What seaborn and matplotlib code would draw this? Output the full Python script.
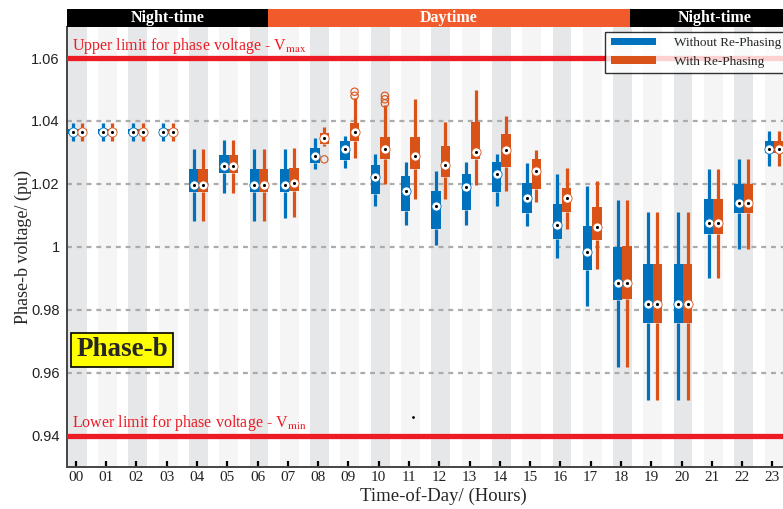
import numpy as np
import pandas as pd
import matplotlib
matplotlib.use("Agg")
import matplotlib.pyplot as plt
import seaborn as sns
from matplotlib.patches import Patch
from matplotlib.ticker import FixedLocator, FixedFormatter

# ---------------- data ----------------
hours = list(range(24))
hour_labels = [f"{h:02d}" for h in hours]

# Without Re-Phasing (blue): lower whisker, Q1, median, Q3, upper whisker
wo_lo  = [1.0337, 1.0337, 1.0337, 1.0337, 1.0083, 1.0172, 1.0083, 1.0091, 1.0248, 1.0252, 1.0130, 1.0069,
          1.0006, 1.0069, 1.0130, 1.0067, 0.9965, 0.9813, 0.9619, 0.9513, 0.9513, 0.9902, 0.9994, 1.0258]
wo_q1  = [1.0357, 1.0357, 1.0357, 1.0357, 1.0175, 1.0236, 1.0175, 1.0175, 1.0265, 1.0276, 1.0168, 1.0115,
          1.0057, 1.0117, 1.0175, 1.0109, 1.0026, 0.9926, 0.9831, 0.9759, 0.9759, 1.0042, 1.0108, 1.0297]
wo_med = [1.0366, 1.0366, 1.0366, 1.0366, 1.0197, 1.0256, 1.0197, 1.0197, 1.0289, 1.0312, 1.0223, 1.0178,
          1.0130, 1.0190, 1.0232, 1.0154, 1.0068, 0.9983, 0.9885, 0.9817, 0.9817, 1.0077, 1.0138, 1.0311]
wo_q3  = [1.0376, 1.0376, 1.0376, 1.0376, 1.0247, 1.0292, 1.0247, 1.0247, 1.0313, 1.0336, 1.0260, 1.0225,
          1.0177, 1.0231, 1.0271, 1.0203, 1.0136, 1.0066, 1.0000, 0.9945, 0.9945, 1.0152, 1.0200, 1.0336]
wo_hi  = [1.0395, 1.0395, 1.0395, 1.0395, 1.0311, 1.0340, 1.0311, 1.0311, 1.0345, 1.0352, 1.0295, 1.0270,
          1.0242, 1.0270, 1.0295, 1.0266, 1.0231, 1.0193, 1.0149, 1.0111, 1.0111, 1.0247, 1.0279, 1.0368]

# With Re-Phasing (orange)
w_lo  = [1.0337, 1.0337, 1.0337, 1.0337, 1.0083, 1.0172, 1.0083, 1.0094, 1.0322, 1.0283, 1.0200, 1.0152,
         1.0152, 1.0197, 1.0178, 1.0143, 1.0058, 0.9930, 0.9619, 0.9513, 0.9513, 0.9902, 0.9994, 1.0258]
w_q1  = [1.0357, 1.0357, 1.0357, 1.0357, 1.0175, 1.0236, 1.0175, 1.0178, 1.0326, 1.0336, 1.0279, 1.0247,
         1.0222, 1.0279, 1.0253, 1.0185, 1.0112, 1.0022, 0.9834, 0.9759, 0.9759, 1.0042, 1.0108, 1.0297]
w_med = [1.0366, 1.0366, 1.0366, 1.0366, 1.0197, 1.0256, 1.0197, 1.0203, 1.0346, 1.0366, 1.0312, 1.0289,
         1.0260, 1.0302, 1.0309, 1.0241, 1.0154, 1.0063, 0.9885, 0.9817, 0.9817, 1.0077, 1.0138, 1.0311]
w_q3  = [1.0376, 1.0376, 1.0376, 1.0376, 1.0247, 1.0292, 1.0247, 1.0251, 1.0361, 1.0395, 1.0350, 1.0350,
         1.0321, 1.0398, 1.0359, 1.0279, 1.0186, 1.0126, 1.0002, 0.9945, 0.9945, 1.0152, 1.0200, 1.0336]
w_hi  = [1.0395, 1.0395, 1.0395, 1.0395, 1.0311, 1.0340, 1.0311, 1.0313, 1.0380, 1.0472, 1.0451, 1.0470,
         1.0397, 1.0499, 1.0416, 1.0308, 1.0249, 1.0209, 1.0149, 1.0111, 1.0111, 1.0247, 1.0279, 1.0368]

# outliers of "With Re-Phasing"
w_out_hour  = [8, 9, 9, 10, 10, 10]
w_out_value = [1.0278, 1.0493, 1.0480, 1.0480, 1.0469, 1.0456]

# stray point
stray_hour = [11.13]
stray_value = [0.9459]

v_max, v_min = 1.06, 0.94
series_names = ["Without Re-Phasing", "With Re-Phasing"]
period_labels = ["Night-time", "Daytime", "Night-time"]
day_start, day_end = 6.35, 18.3

# ---------------- style ----------------
sns.set_theme(style="white")
plt.rcParams["font.family"] = ["Liberation Serif", "DejaVu Serif"]
plt.rcParams["mathtext.fontset"] = "stix"

BLUE = "#0072BD"
ORANGE = "#D95319"
RED = "#ED1C24"
DARK_STRIPE = "#E6E7E9"
LIGHT_STRIPE = "#F5F5F5"

W, H = 783, 509
fig = plt.figure(figsize=(W / 100, H / 100), dpi=100)
ax_l, ax_r, ax_t, ax_b = 66.7, 783, 26.6, 467
ax = fig.add_axes([ax_l / W, 1 - ax_b / H, (ax_r - ax_l) / W, (ax_b - ax_t) / H])

shift = 0.05
box_w = 0.31
xmin, xmax = -0.3, 23.35

# stripes
for h in hours:
    ax.axvspan(h + shift - 0.31, h + shift + 0.31,
               color=DARK_STRIPE if h % 2 == 0 else LIGHT_STRIPE, lw=0, zorder=0)

# grid
for yv in [0.96, 0.98, 1.00, 1.02, 1.04]:
    ax.axhline(yv, color="#ABABAB", lw=1.6, ls=(0, (2.2, 2.2)), zorder=1)


def long_df(lo, q1, med, q3, hi):
    rows = []
    for h, vals in zip(hours, zip(lo, q1, med, q3, hi)):
        for v in vals:
            rows.append((h, v))
    return pd.DataFrame(rows, columns=["hour", "value"])


series = [
    (long_df(wo_lo, wo_q1, wo_med, wo_q3, wo_hi), wo_med, BLUE, -box_w / 2),
    (long_df(w_lo, w_q1, w_med, w_q3, w_hi), w_med, ORANGE, box_w / 2),
]

for df, med, col, off in series:
    df = df.copy()
    df["pos"] = df["hour"] + shift + off
    sns.boxplot(data=df, x="pos", y="value", native_scale=True, width=box_w,
                color=col, linecolor=col, whis=(0, 100), showcaps=False,
                showfliers=False, fill=True, linewidth=0, saturation=1,
                whiskerprops=dict(linewidth=2.3, solid_capstyle="butt"),
                medianprops=dict(linewidth=0), boxprops=dict(linewidth=0),
                ax=ax, zorder=3)
    pos = np.array(hours) + shift + off
    ax.scatter(pos, med, s=44, facecolor="white", edgecolor=col, linewidth=0.6, zorder=5)
    ax.scatter(pos, med, s=5, color="black", linewidth=0, zorder=6)

ax.scatter(np.array(w_out_hour) + shift + box_w / 2, w_out_value, s=28,
           facecolor="none", edgecolor=ORANGE, linewidth=0.8, zorder=5)
ax.scatter(stray_hour, stray_value, s=4, color="black", linewidth=0, zorder=5)

# limit lines
ax.axhline(v_max, color=RED, lw=3.8, zorder=4)
ax.axhline(v_min, color=RED, lw=3.8, zorder=4)
ax.text(0.008, v_max + 0.0027, r"Upper limit for phase voltage - V$_{\mathrm{max}}$",
        transform=ax.get_yaxis_transform(), color=RED, fontsize=11.5, va="baseline", ha="left")
ax.text(0.008, v_min + 0.0027, r"Lower limit for phase voltage - V$_{\mathrm{min}}$",
        transform=ax.get_yaxis_transform(), color=RED, fontsize=11.5, va="baseline", ha="left")

# Phase-b label
ax.text(0.0772, 0.2657, "Phase-b", transform=ax.transAxes, fontsize=19.5, fontweight="bold",
        ha="center", va="center", zorder=7,
        bbox=dict(boxstyle="square,pad=0.18", facecolor="#FFFF00", edgecolor="black", linewidth=1.2))

# axes
ax.set_xlim(xmin, xmax)
ax.set_ylim(0.93, 1.07)
ax.xaxis.set_major_locator(FixedLocator(hours))
ax.xaxis.set_major_formatter(FixedFormatter(hour_labels))
yt = [0.94, 0.96, 0.98, 1.00, 1.02, 1.04, 1.06]
ax.yaxis.set_major_locator(FixedLocator(yt))
ax.yaxis.set_major_formatter(FixedFormatter([f"{v:g}" for v in yt]))
ax.tick_params(axis="x", direction="in", length=4, width=1.6, color="black",
               labelsize=11, pad=3, bottom=True)
ax.tick_params(axis="y", length=0, labelsize=10.5, pad=5)
for lab in ax.get_yticklabels():
    lab.set_family(["Liberation Sans", "DejaVu Sans"])
    lab.set_color("#222222")
for lab in ax.get_xticklabels():
    lab.set_color("#222222")

ax.set_xlabel("Time-of-Day/ (Hours)", fontsize=13.5)
ax.xaxis.set_label_coords(0.526, -0.046)
ax.set_ylabel("Phase-b voltage/ (pu)", fontsize=13)
ax.yaxis.set_label_coords(-0.049, 0.5)
for s in ["top", "right"]:
    ax.spines[s].set_visible(False)
for s in ["left", "bottom"]:
    ax.spines[s].set_color("#444444")
    ax.spines[s].set_linewidth(1.4)

# legend
handles = [Patch(facecolor=BLUE, edgecolor="none"), Patch(facecolor=ORANGE, edgecolor="none")]
leg = ax.legend(handles, series_names, loc="upper right", bbox_to_anchor=(1.005, 0.988),
                fontsize=9.5, frameon=True, fancybox=False, edgecolor="black",
                handlelength=3.4, handleheight=0.5, handletextpad=1.4, borderpad=0.4,
                labelspacing=0.5, borderaxespad=0)
leg.get_frame().set_linewidth(1.0)
leg.set_zorder(8)

# banner
bt, bb = 9, 27.2
axb = fig.add_axes([ax_l / W, 1 - bb / H, (ax_r - ax_l) / W, (bb - bt) / H], sharex=ax)
axb.axvspan(xmin - 1, day_start, color="black", lw=0)
axb.axvspan(day_start, day_end, color="#F15A2B", lw=0)
axb.axvspan(day_end, xmax + 1, color="black", lw=0)
axb.set_ylim(0, 1)
axb.text((xmin + day_start) / 2, 0.5, period_labels[0], color="white", fontsize=11.5,
         fontweight="bold", ha="center", va="center")
axb.text((day_start + day_end) / 2, 0.5, period_labels[1], color="white", fontsize=11.5,
         fontweight="bold", ha="center", va="center")
axb.text((day_end + 23.9) / 2, 0.5, period_labels[2], color="white", fontsize=11.5,
         fontweight="bold", ha="center", va="center")
axb.axis("off")
ax.set_xlim(xmin, xmax)

fig.savefig("out.png", dpi=100)
